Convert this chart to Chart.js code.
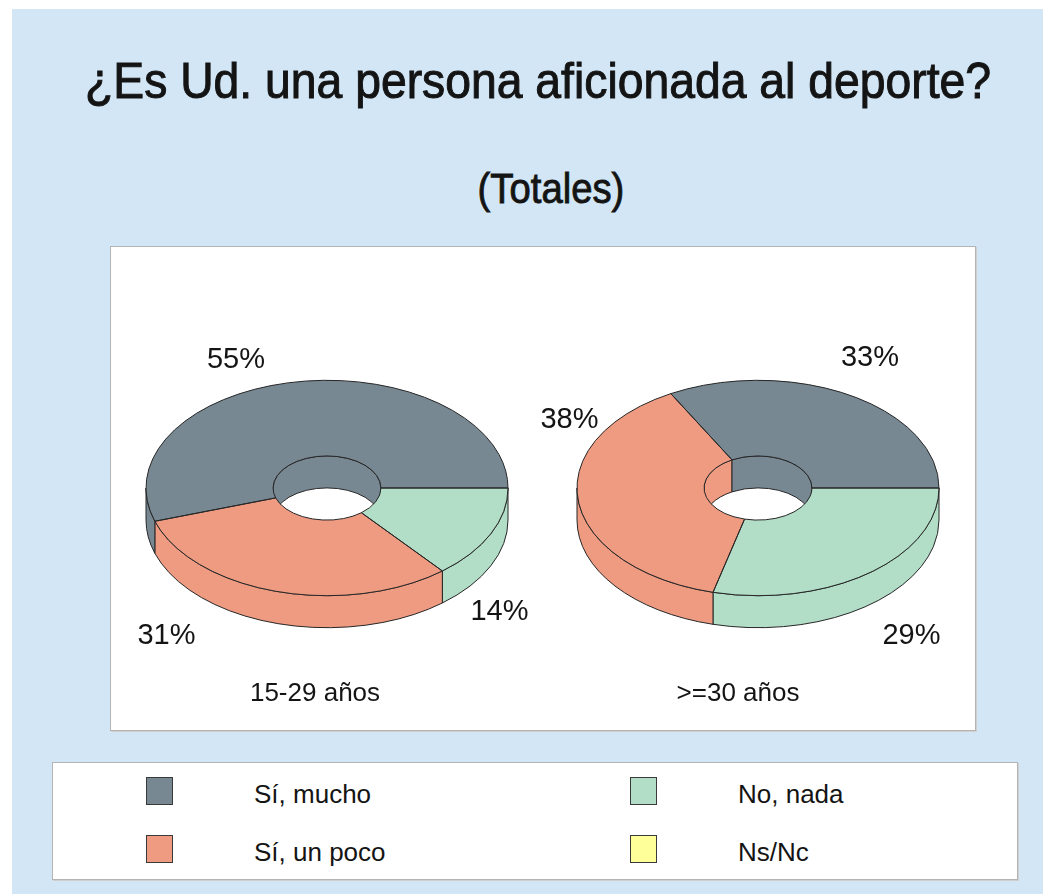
<!DOCTYPE html>
<html><head><meta charset="utf-8">
<script src="https://cdn.jsdelivr.net/npm/chart.js@4.4.1/dist/chart.umd.min.js"></script>
<style>
html,body{margin:0;padding:0;background:#fff;}
#page{position:relative;width:1043px;height:894px;overflow:hidden;font-family:"Liberation Sans",Arial,sans-serif;color:#141414;}
#bg{position:absolute;left:12px;top:9px;width:1031px;height:885px;background:#d2e6f5;}
.ttl{position:absolute;width:1000px;text-align:center;white-space:nowrap;transform-origin:50% 50%;}
#title{left:38px;top:55.7px;font-size:50px;line-height:50px;transform:scaleX(0.926);-webkit-text-stroke:1px #141414;}
#subtitle{left:50.5px;top:166.6px;font-size:43px;line-height:43px;transform:scaleX(0.89);-webkit-text-stroke:0.9px #141414;}
#plot{position:absolute;left:110px;top:246px;width:864px;height:483px;background:#fff;border:1px solid #b4b4b4;box-shadow:1px 1px 0 #cfcfcf;}
#legend{position:absolute;left:52px;top:762px;width:964px;height:116px;background:#fff;border:1px solid #b4b4b4;box-shadow:1px 1px 0 #cfcfcf;}
canvas{position:absolute;}
.sw{position:absolute;width:25px;height:26px;border:1px solid #3a3a3a;}
.lt{position:absolute;font-size:26px;line-height:26px;white-space:nowrap;}
</style></head>
<body>
<div id="page">
  <div id="bg"></div>
  <div id="title" class="ttl">¿Es Ud. una persona aficionada al deporte?</div>
  <div id="subtitle" class="ttl">(Totales)</div>
  <div id="plot"></div>
  <div id="legend"></div>
</div>
<script>
// ---- data ----
const categories = ['Sí, mucho', 'Sí, un poco', 'No, nada', 'Ns/Nc'];
const groupLabels = ['15-29 años', '>=30 años'];
const values15to29 = [55, 31, 14, 0];
const values30plus = [33, 38, 29, 0];

// ---- style / layout ----
const sliceColors = ['#778893', '#EF9B82', '#B2DDC7', '#FFFF99'];
const clockwiseOrder = [2, 1, 0, 3]; // slices drawn clockwise from 3 o'clock
const TILT = 0.595, DEPTH = 32, RADIUS = 181, CUTOUT = '29.8%';
const CANVAS = 460;
const layouts = [
  { left: 97,  top: 258, labelPos: [[-91, -120], [-160.5, 156], [172.5, 132], null], groupPos: [-12, 213] },
  { left: 528, top: 258, labelPos: [[112, -122], [-188.5, -60], [153.5, 156], null], groupPos: [-20, 213] }
];
const legendLayout = { swLeft: [146, 630], textLeft: [254, 738], swTop: [777, 835], textTop: [781, 839] };

// ---- legend ----
const page = document.getElementById('page');
categories.forEach((cat, i) => {
  const col = i < 2 ? 0 : 1, row = i % 2;
  const sw = document.createElement('div');
  sw.className = 'sw';
  sw.style.left = legendLayout.swLeft[col] + 'px';
  sw.style.top = legendLayout.swTop[row] + 'px';
  sw.style.background = sliceColors[i];
  page.appendChild(sw);
  const t = document.createElement('div');
  t.className = 'lt';
  t.style.left = legendLayout.textLeft[col] + 'px';
  t.style.top = legendLayout.textTop[row] + 'px';
  t.textContent = cat;
  page.appendChild(t);
});

// ---- 3D doughnut plugin ----
function arcE(ctx, x, y, r, k, a0, a1, ccw) {
  ctx.save();
  ctx.translate(x, y);
  ctx.scale(1, k);
  ctx.arc(0, 0, r, a0, a1, ccw);
  ctx.restore();
}

function makePie3d(layout, groupLabel, values) {
  return {
    id: 'pie3d',
    beforeDatasetsDraw(chart) {
      const ctx = chart.ctx;
      const arcs = chart.getDatasetMeta(0).data;
      ctx.save();
      ctx.lineWidth = 1;
      ctx.strokeStyle = '#262626';
      ctx.lineJoin = 'round';
      arcs.forEach(a => {
        const p = a.getProps(['x', 'y', 'startAngle', 'endAngle', 'innerRadius', 'outerRadius'], true);
        const color = a.options.backgroundColor;
        // inner (back) wall, visible through the hole
        let s = Math.max(p.startAngle, Math.PI), e = Math.min(p.endAngle, 2 * Math.PI);
        if (e - s > 1e-6) {
          ctx.beginPath();
          arcE(ctx, p.x, p.y, p.innerRadius, TILT, s, e, false);
          arcE(ctx, p.x, p.y + DEPTH, p.innerRadius, TILT, e, s, true);
          ctx.closePath();
          ctx.fillStyle = color;
          ctx.fill();
          ctx.stroke();
        }
        // outer (front) wall
        s = Math.max(p.startAngle, 0); e = Math.min(p.endAngle, Math.PI);
        if (e - s > 1e-6) {
          ctx.beginPath();
          arcE(ctx, p.x, p.y, p.outerRadius, TILT, s, e, false);
          arcE(ctx, p.x, p.y + DEPTH, p.outerRadius, TILT, e, s, true);
          ctx.closePath();
          ctx.fillStyle = color;
          ctx.fill();
          ctx.stroke();
        }
      });
      ctx.restore();
      // squash the top face drawn by Chart.js
      const c = arcs[0];
      ctx.save();
      ctx.translate(c.x, c.y);
      ctx.scale(1, TILT);
      ctx.translate(-c.x, -c.y);
    },
    afterDatasetsDraw(chart) {
      const ctx = chart.ctx;
      ctx.restore();
      const arcs = chart.getDatasetMeta(0).data;
      ctx.save();
      ctx.lineWidth = 1;
      ctx.strokeStyle = '#262626';
      ctx.lineJoin = 'round';
      arcs.forEach(a => {
        const p = a.getProps(['x', 'y', 'startAngle', 'endAngle', 'innerRadius', 'outerRadius'], true);
        if (p.endAngle - p.startAngle < 1e-6) return;
        ctx.beginPath();
        arcE(ctx, p.x, p.y, p.outerRadius, TILT, p.startAngle, p.endAngle, false);
        arcE(ctx, p.x, p.y, p.innerRadius, TILT, p.endAngle, p.startAngle, true);
        ctx.closePath();
        ctx.stroke();
      });
      ctx.restore();
    },
    afterDraw(chart) {
      const ctx = chart.ctx;
      const arcs = chart.getDatasetMeta(0).data;
      const cx = arcs[0].x, cy = arcs[0].y;
      ctx.save();
      ctx.fillStyle = '#141414';
      ctx.textAlign = 'center';
      ctx.textBaseline = 'alphabetic';
      ctx.font = '29px "Liberation Sans", Arial, sans-serif';
      categories.forEach((cat, i) => {
        const pos = layout.labelPos[i];
        if (!pos || !(values[i] > 0)) return;
        ctx.fillText(Math.round(values[i]) + '%', cx + pos[0], cy + pos[1]);
      });
      ctx.font = '26px "Liberation Sans", Arial, sans-serif';
      ctx.fillText(groupLabel, cx + layout.groupPos[0], cy + layout.groupPos[1]);
      ctx.restore();
    }
  };
}

function makeChart(idx, values) {
  const L = layouts[idx];
  const c = document.createElement('canvas');
  c.width = CANVAS; c.height = CANVAS;
  c.style.left = L.left + 'px'; c.style.top = L.top + 'px';
  c.style.width = CANVAS + 'px'; c.style.height = CANVAS + 'px';
  page.appendChild(c);
  new Chart(c, {
    type: 'doughnut',
    data: {
      labels: clockwiseOrder.map(i => categories[i]),
      datasets: [{
        data: clockwiseOrder.map(i => values[i]),
        backgroundColor: clockwiseOrder.map(i => sliceColors[i]),
        borderWidth: 0,
        hoverOffset: 0
      }]
    },
    options: {
      responsive: false,
      animation: false,
      events: [],
      devicePixelRatio: 1,
      rotation: 90,
      radius: RADIUS,
      cutout: CUTOUT,
      layout: { padding: 0 },
      plugins: { legend: { display: false }, tooltip: { enabled: false }, title: { display: false } }
    },
    plugins: [makePie3d(L, groupLabels[idx], values)]
  });
}

makeChart(0, values15to29);
makeChart(1, values30plus);
</script>
</body></html>
